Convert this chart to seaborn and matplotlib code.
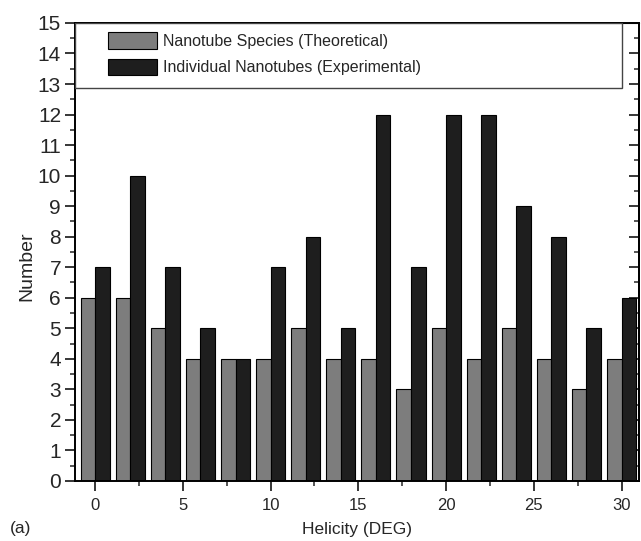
import pandas as pd
import matplotlib
matplotlib.use('Agg')
import matplotlib.pyplot as plt
import seaborn as sns
from matplotlib.ticker import MultipleLocator
from matplotlib.patches import Rectangle, Patch

# values
helicity = [0, 2, 4, 6, 8, 10, 12, 14, 16, 18, 20, 22, 24, 26, 28, 30]
theoretical = [6, 6, 5, 4, 4, 4, 5, 4, 4, 3, 5, 4, 5, 4, 3, 4]
experimental = [7, 10, 7, 5, 4, 7, 8, 5, 12, 7, 12, 12, 9, 8, 5, 6]
series_names = ['Nanotube Species (Theoretical)', 'Individual Nanotubes (Experimental)']
bar_colors = ['#7d7d7d', '#1e1e1e']

df = pd.DataFrame({
    'helicity': helicity * 2,
    'number': theoretical + experimental,
    'series': [series_names[0]] * len(helicity) + [series_names[1]] * len(helicity),
})

sns.set_style('ticks')
plt.rcParams['font.family'] = ['Liberation Sans', 'DejaVu Sans']

fig = plt.figure(figsize=(6.41, 5.41), dpi=100)
ax = fig.add_axes([0.117, 0.111, 0.88, 0.8466])

sns.barplot(data=df, x='helicity', y='number', hue='series', hue_order=series_names,
            palette=bar_colors, native_scale=True, width=0.83, saturation=1,
            edgecolor='black', linewidth=0.8, errorbar=None, legend=False, ax=ax)

ax.set_xlim(-1.15, 31.0)
ax.set_ylim(0, 15)
ax.set_xticks(range(0, 31, 5))
ax.xaxis.set_minor_locator(MultipleLocator(2.5))
ax.set_yticks(range(0, 16))
ax.yaxis.set_minor_locator(MultipleLocator(0.5))

ax.tick_params(axis='x', which='major', direction='out', length=7, width=1.3, labelsize=12, pad=5)
ax.tick_params(axis='x', which='minor', direction='out', length=3.5, width=1.1)
ax.tick_params(axis='y', which='major', direction='out', length=7, width=1.3, labelsize=15, pad=3)
ax.tick_params(axis='y', which='minor', direction='out', length=3.5, width=1.1)
for sp in ax.spines.values():
    sp.set_linewidth(1.4)
    sp.set_color('black')

# inward ticks on the right side
sec = ax.secondary_yaxis('right')
sec.set_yticks(range(0, 16))
sec.yaxis.set_minor_locator(MultipleLocator(0.5))
sec.tick_params(which='major', direction='in', length=7, width=1.3, labelright=False)
sec.tick_params(which='minor', direction='in', length=3.5, width=1.1)
sec.spines['right'].set_linewidth(1.4)

top = ax.secondary_xaxis('top')
top.set_xticks([30])
top.tick_params(direction='in', length=7, width=1.3, labeltop=False)

# legend box across the top
ax.add_patch(Rectangle((0, 0.858), 0.97, 0.142, transform=ax.transAxes,
                       facecolor='white', edgecolor='#444444', linewidth=1, zorder=3))
handles = [Patch(facecolor=c, edgecolor='black', linewidth=0.8) for c in bar_colors]
ax.legend(handles, series_names, loc='upper left', bbox_to_anchor=(0.0585, 0.98),
          frameon=False, fontsize=11.5, handlelength=3.06, handleheight=1.25,
          handletextpad=0.4, labelspacing=0.6, borderpad=0, borderaxespad=0)

ax.set_xlabel('Helicity (DEG)', fontsize=12.5, labelpad=7)
ax.set_ylabel('Number', fontsize=14)
ax.yaxis.set_label_coords(-0.07, 0.469)
fig.text(10 / 641, 13 / 541, '(a)', fontsize=12.5, ha='left', va='center')

fig.savefig('out.png', dpi=100)
